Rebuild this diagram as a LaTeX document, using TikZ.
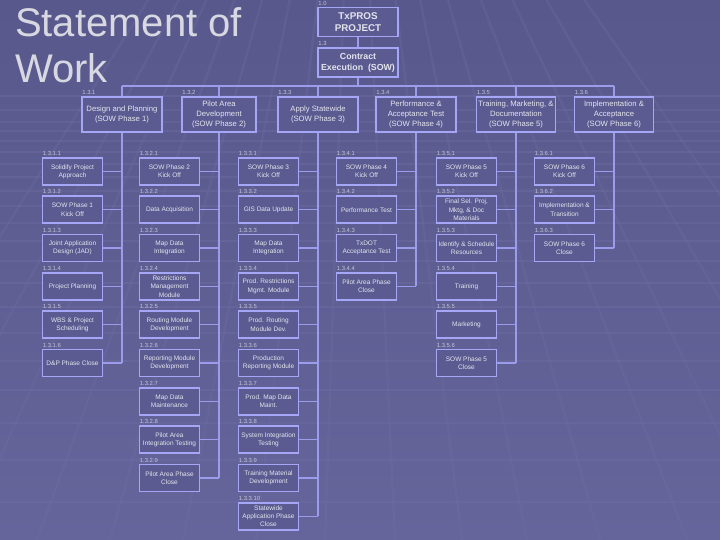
\documentclass[tikz,border=0pt]{standalone}
\usepackage{fontspec}
\setmainfont{Liberation Sans}
\usetikzlibrary{calc}
\definecolor{bgtop}{HTML}{58588C}
\definecolor{bgbot}{HTML}{65659B}
\definecolor{boxfill}{HTML}{5B5B91}
\definecolor{boxline}{HTML}{A6A6F6}
\definecolor{conn}{HTML}{9C9CEC}
\definecolor{txt}{HTML}{E4E4EE}
\definecolor{lbl}{HTML}{C4C4D6}
\definecolor{stripe}{HTML}{6E6EA4}
\definecolor{titlecol}{HTML}{D8D8E2}
\tikzset{
  box/.style={draw=boxline, line width=1.7pt, fill=boxfill, text=txt, align=center, inner sep=0pt},
  topbox/.style={box, minimum width=80pt, minimum height=29pt, font=\fontsize{9.8}{12}\selectfont\bfseries},
  l2box/.style={box, minimum height=35pt, font=\fontsize{7.7}{9.7}\selectfont},
  subbox/.style={box, minimum width=60pt, minimum height=27pt, font=\fontsize{6.5}{8.3}\selectfont},
  num/.style={text=lbl, font=\fontsize{5.9}{6.2}\selectfont, inner sep=0pt, anchor=south west},
  link/.style={draw=conn, line width=1.3pt},
  titletext/.style={anchor=base west, text=titlecol, inner sep=0pt, font=\fontsize{40}{46}\selectfont},
}
\newcommand\mkcol[3]{%
  \foreach \r/\t in {#3} {
    \node[subbox] (s#1-\r) at ({#2-49.5},{171.5+38.3*(\r-1)}) {\t};
    \node[num] at ($(s#1-\r.north west)+(1,-1.2)$) {1.3.#1.\r};
    \draw[link] (s#1-\r.east) -- (s#1-\r.east -| L#1.south);
  }
}
\begin{document}
\begin{tikzpicture}[x=1pt,y=-1pt]
\shade[top color=bgtop, bottom color=bgbot] (0,0) rectangle (720,540);
\useasboundingbox (0,0) rectangle (720,540);
\begin{scope}
  \clip (0,0) rectangle (720,540);
  \foreach \y in {96,110,122,131,141,152,164,177,191,206,223,241,261,283,307,333,361,390,423,460,502}
    \draw[stripe, line width=1.1pt, opacity=0.4] (0,\y) -- (720,\y);
  \foreach \x in {-190,-110,-37,37,110,183,256,325,395,462,527,600,687,770,860,960}
    \draw[stripe, line width=2.4pt, opacity=0.3] (355,-330) -- ($(355,-330)!1.5!(\x,540)$);
\end{scope}

\node[titletext] (t1) at (15,37) {Statement of};
\node[titletext] (t2) at (15,83) {Work};

\node[topbox] (root) at (358,22) {TxPROS\\PROJECT};
\node[num] at ($(root.north west)+(1,-1.2)$) {1.0};
\node[topbox, font=\fontsize{8.8}{11}\selectfont\bfseries] (sow) at (358,62.5) {Contract\\Execution\ \ (SOW)};
\node[num] at ($(sow.north west)+(1,-1.2)$) {1.3};
\draw[link] (root) -- (sow);
\coordinate (bus) at (358,86);
\draw[link] (sow.south) -- (sow.south |- bus);

\foreach \i/\x/\w/\t in {
  1/122/80/{Design and Planning\\(SOW Phase 1)},
  2/219/74/{Pilot Area\\Development\\(SOW Phase 2)},
  3/318/80/{Apply Statewide\\(SOW Phase 3)},
  4/416/80/{Performance \&\\Acceptance Test\\(SOW Phase 4)},
  5/516/79/{Training, Marketing, \&\\Documentation\\(SOW Phase 5)},
  6/614/79/{Implementation \&\\Acceptance\\(SOW Phase 6)}} {
  \node[l2box, minimum width=\w pt] (L\i) at (\x,114.5) {\t};
  \node[num] at ($(L\i.north west)+(1,-1.2)$) {1.3.\i};
  \draw[link] (L\i.north) -- (L\i.north |- bus);
}
\draw[link] (L1.north |- bus) -- (L6.north |- bus);

\mkcol{1}{122}{
  1/{Solidify Project\\Approach},
  2/{SOW Phase 1\\Kick Off},
  3/{Joint Application\\Design (JAD)},
  4/{Project Planning},
  5/{WBS \& Project\\Scheduling},
  6/{D\&P Phase Close}}
\draw[link] (L1.south) -- (L1.south |- s1-6.east);

\mkcol{2}{219}{
  1/{SOW Phase 2\\Kick Off},
  2/{Data Acquisition},
  3/{Map Data\\Integration},
  4/{Restrictions\\Management\\Module},
  5/{Routing Module\\Development},
  6/{Reporting Module\\Development},
  7/{Map Data\\Maintenance},
  8/{Pilot Area\\Integration Testing},
  9/{Pilot Area Phase\\Close}}
\draw[link] (L2.south) -- (L2.south |- s2-9.east);

\mkcol{3}{318}{
  1/{SOW Phase 3\\Kick Off},
  2/{GIS Data Update},
  3/{Map Data\\Integration},
  4/{Prod. Restrictions\\Mgmt. Module},
  5/{Prod. Routing\\Module Dev.},
  6/{Production\\Reporting Module},
  7/{Prod. Map Data\\Maint.},
  8/{System Integration\\Testing},
  9/{Training Material\\Development},
  10/{Statewide\\Application Phase\\Close}}
\draw[link] (L3.south) -- (L3.south |- s3-10.east);

\mkcol{4}{416}{
  1/{SOW Phase 4\\Kick Off},
  2/{Performance Test},
  3/{TxDOT\\Acceptance Test},
  4/{Pilot Area Phase\\Close}}
\draw[link] (L4.south) -- (L4.south |- s4-4.east);

\mkcol{5}{516}{
  1/{SOW Phase 5\\Kick Off},
  2/{Final Sel. Proj,\\Mktg, \& Doc\\Materials},
  3/{Identify \& Schedule\\Resources},
  4/{Training},
  5/{Marketing},
  6/{SOW Phase 5\\Close}}
\draw[link] (L5.south) -- (L5.south |- s5-6.east);

\mkcol{6}{614}{
  1/{SOW Phase 6\\Kick Off},
  2/{Implementation \&\\Transition},
  3/{SOW Phase 6\\Close}}
\draw[link] (L6.south) -- (L6.south |- s6-3.east);
\end{tikzpicture}
\end{document}
